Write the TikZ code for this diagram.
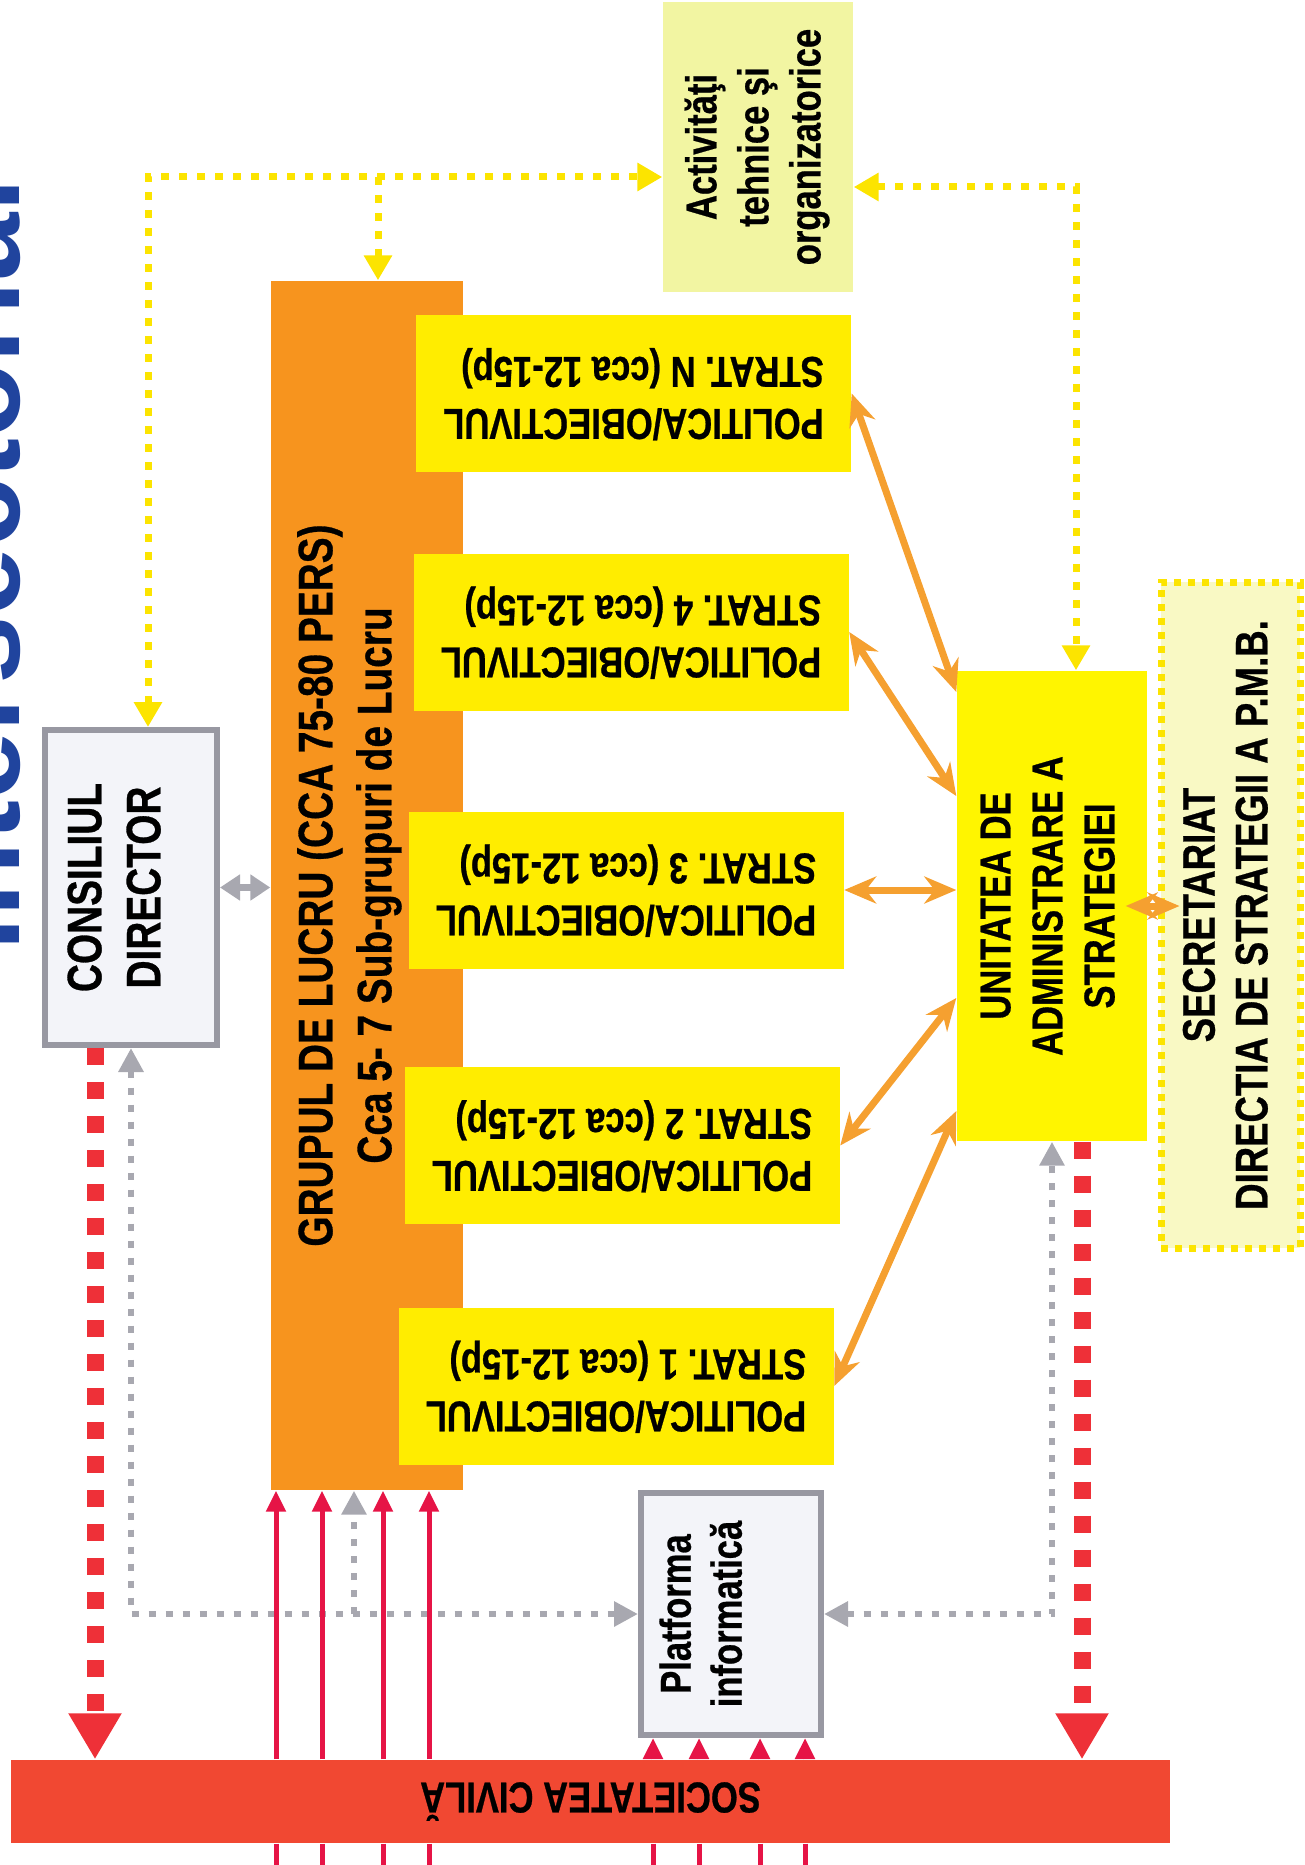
\documentclass[tikz,border=0pt]{standalone}
\usepackage{graphicx}
\usepackage{fontspec}
\setmainfont{Liberation Sans}[FakeStretch=0.8, BoldFeatures={FakeBold=0.6}]
\newfontfamily\titlefont{Liberation Sans}
\usetikzlibrary{arrows.meta}

\definecolor{grorange}{RGB}{247,148,30}
\definecolor{stratyellow}{RGB}{255,237,0}
\definecolor{unityellow}{RGB}{255,245,0}
\definecolor{paleyellow}{RGB}{242,245,162}
\definecolor{secyellow}{RGB}{249,249,196}
\definecolor{dotyellow}{RGB}{252,228,0}
\definecolor{boxgray}{RGB}{152,152,162}
\definecolor{boxfill}{RGB}{243,244,249}
\definecolor{civred}{RGB}{241,72,50}
\definecolor{dashred}{RGB}{238,48,56}
\definecolor{crimson}{RGB}{230,20,70}
\definecolor{arrorange}{RGB}{245,160,48}
\definecolor{dotgray}{RGB}{168,168,176}
\definecolor{titleblue}{RGB}{32,68,158}

\newcommand{\vtext}[1]{\rotatebox{90}{\begin{tabular}{@{}c@{}}#1\end{tabular}}}
\newcommand{\utext}[1]{\rotatebox{180}{\begin{tabular}{@{}l@{}}#1\end{tabular}}}

\begin{document}
\begin{tikzpicture}[
    txt/.style={font=\bfseries\fontsize{12.3}{14.8}\selectfont},
    bigtxt/.style={font=\bfseries\fontsize{13.8}{16.8}\selectfont},
    plainbox/.style={inner sep=0pt, anchor=center},
    stratbox/.style={plainbox, txt, fill=stratyellow, minimum width=4.35cm, minimum height=1.57cm},
    greybox/.style={plainbox, fill=boxfill, draw=boxgray, line width=0.06cm},
    ydot/.style={dotyellow, line width=0.07cm, dash pattern=on 0.08cm off 0.1cm, >={Triangle[width=0.27cm,length=0.25cm]}},
    gdot/.style={dotgray, line width=0.06cm, dash pattern=on 0.07cm off 0.1cm, >={Triangle[width=0.24cm,length=0.24cm]}},
    rdash/.style={dashred, line width=0.17cm, dash pattern=on 0.17cm off 0.17cm, -{Triangle[width=0.5cm,length=0.46cm]}},
    carrow/.style={crimson, line width=0.05cm, -{Triangle[width=0.19cm,length=0.21cm]}},
    cline/.style={crimson, line width=0.05cm},
    oarrow/.style={arrorange, line width=0.07cm, {Stealth[width=0.27cm,length=0.32cm]}-{Stealth[width=0.27cm,length=0.32cm]}},
    garrow/.style={dotgray, line width=0.075cm, {Triangle[width=0.25cm,length=0.2cm]}-{Triangle[width=0.25cm,length=0.2cm]}}
]

    % Fix the page to the size of the picture
    \useasboundingbox (0,0) rectangle (13.05,-18.65);

    % Title, cut off at the left edge
    \node[rotate=90, anchor=base, text=titleblue, font=\titlefont\bfseries\fontsize{35}{40}\selectfont] (title) at (0.2,-5.65) {intersectorial};

    % Draw the boxes
    \node[plainbox, txt, fill=paleyellow, minimum width=1.9cm, minimum height=2.9cm] (act) at (7.58,-1.47)
        {\vtext{Activităţi\\tehnice şi\\organizatorice}};
    \node[plainbox, fill=grorange, minimum width=1.92cm, minimum height=12.09cm,
        label={[bigtxt, xshift=-1.7mm]center:\vtext{GRUPUL DE LUCRU (CCA 75-80 PERS)\\Cca 5- 7 Sub-grupuri de Lucru}}] (grup) at (3.67,-8.855) {};
    \foreach \n/\x/\y in {N/6.335/-3.935, 4/6.31/-6.32, 3/6.26/-8.90, 2/6.22/-11.455, 1/6.16/-13.86}
        \node[stratbox] (s\n) at (\x,\y) {\utext{POLITICA/OBIECTIVUL\\STRAT. \n{} (cca 12-15p)}};
    \node[plainbox, txt, fill=unityellow, minimum width=1.9cm, minimum height=4.7cm] (una) at (10.52,-9.06)
        {\vtext{UNITATEA DE\\ADMINISTRARE A\\STRATEGIEI}};
    \node[plainbox, font=\bfseries\fontsize{13}{15}\selectfont, fill=secyellow, draw=dotyellow, line width=0.07cm,
        dash pattern=on 0.07cm off 0.07cm, minimum width=1.39cm, minimum height=6.66cm] (sec) at (12.305,-9.15)
        {\vtext{SECRETARIAT\\DIRECTIA DE STRATEGII A P.M.B.}};
    \node[greybox, minimum width=1.72cm, minimum height=3.15cm,
        label={[bigtxt, xshift=-1.2mm]center:\vtext{CONSILIUL\\DIRECTOR}}] (cd) at (1.31,-8.875) {};
    \node[greybox, minimum width=1.8cm, minimum height=2.42cm,
        label={[font=\bfseries\fontsize{12.3}{14.5}\selectfont, xshift=-2.5mm]center:\vtext{Platforma\\informatică}}] (plat) at (7.31,-16.14) {};
    \node[plainbox, txt, fill=civred, minimum width=11.59cm, minimum height=0.83cm] (soc) at (5.905,-18.015)
        {\rotatebox{180}{SOCIETATEA CIVILĂ}};

    % Yellow dotted links
    \coordinate (ytl) at (1.48,-1.77);
    \coordinate (ybr) at (3.78,-1.77);
    \coordinate (ytr) at (10.76,-1.87);
    \draw[ydot, <->] (ytl |- cd.north) -- (ytl) -- (ytl -| act.west);
    \draw[ydot, ->] (ybr) -- (ybr |- grup.north);
    \draw[ydot, <->] (ytr -| act.east) -- (ytr) -- (ytr |- una.north);

    % Grey dotted links
    \coordinate (gbr) at (3.54,-16.14);
    \draw[gdot, <->] (cd.south) |- (plat.west);
    \draw[gdot, ->] (gbr) -- (gbr |- grup.south);
    \draw[gdot, <->] (plat.east) -| (una.south);

    % Red dashed links down to the civil society
    \coordinate (cdr) at ([xshift=-3.6mm]cd.south);
    \coordinate (unr) at ([xshift=3mm]una.south);
    \draw[rdash] (cdr) -- (cdr |- soc.north);
    \draw[rdash] (unr) -- (unr |- soc.north);

    % Arrows from the civil society
    \foreach \x in {2.76,3.22,3.83,4.29} {
        \draw[carrow] (\x,0 |- soc.north) -- (\x,0 |- grup.south);
        \draw[cline] (\x,0 |- soc.south) -- ++(0,-0.25);
    }
    \foreach \x in {6.53,6.99,7.60,8.05} {
        \draw[carrow] (\x,0 |- soc.north) -- (\x,0 |- plat.south);
        \draw[cline] (\x,0 |- soc.south) -- ++(0,-0.25);
    }

    % Orange arrows between the strategy boxes and the unit
    \foreach \n/\dy in {N/2.14, 4/1.10, 2/-0.92, 1/-2.05}
        \draw[oarrow] (s\n.east) -- ([yshift=\dy cm]una.west);
    \draw[oarrow] (s3.east) -- (s3.east -| una.west);
    \draw[oarrow, shorten <=-2.2mm, shorten >=-2.2mm] (una.east) -- (una.east -| sec.west);

    % Grey arrow between the council and the working group
    \draw[garrow] (cd.east) -- (cd.east -| grup.west);

\end{tikzpicture}
\end{document}
